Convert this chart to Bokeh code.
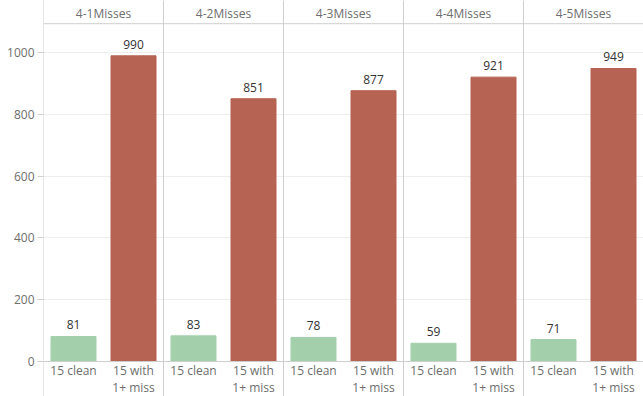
from bokeh.plotting import figure
from bokeh.models import ColumnDataSource, Range1d, FixedTicker, Span
from bokeh.core.properties import value
from bokeh.embed import file_html
from bokeh.resources import INLINE

panels = ["4-1Misses", "4-2Misses", "4-3Misses", "4-4Misses", "4-5Misses"]
categories = ["15 clean", "15 with\n1+ miss"]
clean = [81, 83, 78, 59, 71]
with_miss = [990, 851, 877, 921, 949]
y_ticks = [0, 200, 400, 600, 800, 1000]
colors = ["#a3cfab", "#b66353"]

FONT = value("Open Sans")
GRAY = "#6e6e6e"
LINE = "#cfcfcf"

# layout constants (data units for the in-frame header / footer bands)
Y_TOP = 1169.2
Y_BOTTOM = -113.4
HEADER_LINE = 1094

xs, tops, cols, labels, cats = [], [], [], [], []
for i, p in enumerate(panels):
    for j, vals in enumerate([clean, with_miss]):
        xs.append(i * 2 + j + 0.5)
        tops.append(vals[i])
        cols.append(colors[j])
        labels.append(str(vals[i]))
        cats.append(categories[j])

src = ColumnDataSource(dict(x=xs, top=tops, color=cols, label=labels, cat=cats))
hdr = ColumnDataSource(dict(x=[i * 2 + 1 for i in range(len(panels))],
                            y=[HEADER_LINE] * len(panels), name=panels))

p = figure(width=643, height=396, output_backend="svg", toolbar_location=None,
           x_range=Range1d(0, 2 * len(panels)), y_range=Range1d(Y_BOTTOM, Y_TOP),
           min_border_left=43, min_border_right=0, min_border_top=0, min_border_bottom=0)
p.outline_line_color = None
p.xaxis.visible = False
p.xgrid.visible = False

p.yaxis.ticker = FixedTicker(ticks=y_ticks)
p.yaxis.axis_line_color = None
p.yaxis.major_tick_line_color = LINE
p.yaxis.major_tick_out = 6
p.yaxis.major_tick_in = 0
p.yaxis.minor_tick_line_color = None
p.yaxis.major_label_standoff = 3
p.yaxis.major_label_text_font = "Open Sans"
p.yaxis.major_label_text_font_size = "12px"
p.yaxis.major_label_text_color = GRAY

p.ygrid.ticker = FixedTicker(ticks=y_ticks[1:])
p.ygrid.grid_line_color = "#eeeeee"

p.vbar(x="x", top="top", bottom=0, width=0.75, color="color", source=src)

p.text(x="x", y="top", text="label", source=src, text_align="center",
       text_baseline="bottom", y_offset=-7, text_font=FONT,
       text_font_size="12px", text_color="#333333")

p.text(x="x", y=0, text="cat", source=src, text_align="center",
       text_baseline="top", y_offset=1, text_font=FONT, text_font_size="12px",
       text_color=GRAY, text_line_height=1.0)

p.text(x="x", y="y", text="name", source=hdr, text_align="center",
       text_baseline="middle", y_offset=-10.5, text_font=FONT,
       text_font_size="12px", text_color=GRAY)

for k in range(len(panels)):
    p.add_layout(Span(location=2 * k, dimension="height", line_color=LINE, line_width=1))
p.add_layout(Span(location=0, dimension="width", line_color=LINE, line_width=1))
p.add_layout(Span(location=HEADER_LINE, dimension="width", line_color=LINE, line_width=1))

open("out.html", "w").write(file_html(p, INLINE))
